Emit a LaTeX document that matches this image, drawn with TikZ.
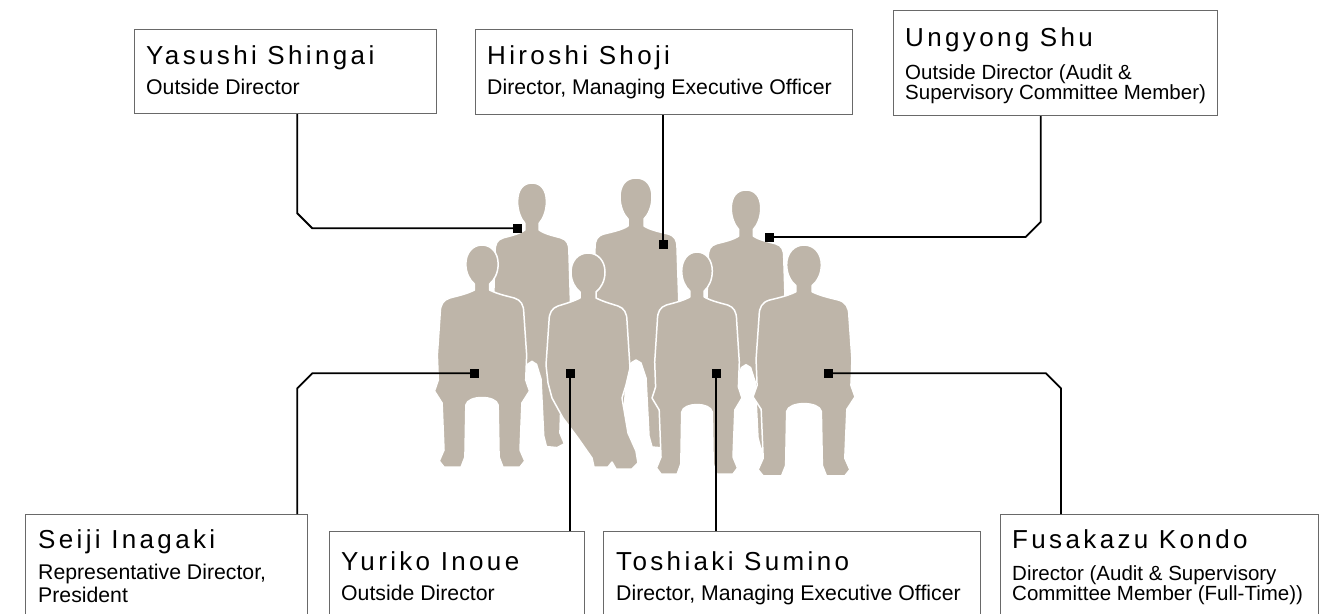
\documentclass[tikz,border=0pt]{standalone}
\usepackage{fontspec}
\setmainfont{Liberation Sans}
\newfontfamily\namefont[LetterSpace=12.9]{Liberation Sans}
\usetikzlibrary{calc}
\definecolor{silh}{RGB}{190,181,169}
\definecolor{frame}{RGB}{105,105,105}

\begin{document}
\begin{tikzpicture}[x=1pt,y=-1pt,
  namebox/.style={draw=frame,line width=1.1pt,fill=white,inner sep=0pt,anchor=north west},
  nametext/.style={anchor=base west,inner sep=0pt,font=\namefont\fontsize{26}{30}\selectfont},
  roletext/.style={anchor=base west,inner sep=0pt,font=\fontsize{21.25}{24}\selectfont},
  roletight/.style={anchor=base west,inner sep=0pt,font=\fontsize{20.5}{24}\selectfont},
  conn/.style={line width=1.8pt,black},
  marker/.style={fill=black,minimum size=9pt,inner sep=0pt},
  person/.style={fill=silh,draw=white,line width=1.5pt,line join=round},
  standing/.pic={
    \path[person] (0,0)
      .. controls (10,0) and (16,7) .. (16,19)
      .. controls (16,29) and (12,37) .. (8,41)
      -- (8,48)
      .. controls (14,52) and (24,54) .. (32,56)
      .. controls (39,58) and (41,62) .. (41,70)
      -- (43,130) -- (44,165) -- (41,178) -- (36,178)
      -- (33,200) -- (31,255)
      -- (36,266) -- (28,270) -- (16,269) -- (13,258)
      -- (10,200) -- (5,185) -- (0,182) -- (-5,185) -- (-10,200)
      -- (-13,258) -- (-16,269) -- (-28,270) -- (-36,266) -- (-31,255)
      -- (-33,200) -- (-36,178) -- (-41,178) -- (-44,165) -- (-43,130)
      -- (-41,70)
      .. controls (-41,62) and (-39,58) .. (-32,56)
      .. controls (-24,54) and (-14,52) .. (-8,48)
      -- (-8,41)
      .. controls (-12,37) and (-16,29) .. (-16,19)
      .. controls (-16,7) and (-10,0) .. (0,0) -- cycle;
  },
  seated/.pic={
    \path[person] (0,0)
      .. controls (10,0) and (17,8) .. (17,19)
      .. controls (17,28) and (13,35) .. (8,39)
      -- (8,45)
      .. controls (16,49) and (26,51) .. (34,53)
      .. controls (41,55) and (44,60) .. (44,68)
      -- (47,110) -- (46,135) -- (50,146) -- (46,152) -- (42,158)
      -- (40,205) -- (45,216) -- (40,222) -- (22,222) -- (18,212)
      -- (17,160)
      .. controls (15,150) and (-15,150) .. (-17,160)
      -- (-18,212) -- (-22,222) -- (-40,222) -- (-45,216) -- (-40,205)
      -- (-42,158) -- (-46,152) -- (-50,146) -- (-46,135) -- (-47,110)
      -- (-44,68)
      .. controls (-44,60) and (-41,55) .. (-34,53)
      .. controls (-26,51) and (-16,49) .. (-8,45)
      -- (-8,39)
      .. controls (-13,35) and (-17,28) .. (-17,19)
      .. controls (-17,8) and (-10,0) .. (0,0) -- cycle;
  },
  crossleg/.pic={
    \path[person] (0,0)
      .. controls (10,0) and (17,8) .. (17,19)
      .. controls (17,28) and (13,35) .. (8,39)
      -- (8,45)
      .. controls (16,49) and (24,51) .. (30,53)
      .. controls (36,55) and (39,60) .. (39,68)
      -- (42,115) -- (38,132) -- (34,145)
      -- (40,180) -- (48,198) -- (50,210) -- (44,216) -- (28,216)
      -- (24,209) -- (20,214) -- (6,214) -- (4,205)
      -- (-10,185) -- (-25,165) -- (-36,145) -- (-40,130) -- (-42,112)
      -- (-39,68)
      .. controls (-39,60) and (-36,55) .. (-30,53)
      .. controls (-24,51) and (-16,49) .. (-8,45)
      -- (-8,39)
      .. controls (-13,35) and (-17,28) .. (-17,19)
      .. controls (-17,8) and (-10,0) .. (0,0) -- cycle;
  }
]
\useasboundingbox (0,0) rectangle (1335,613);
\clip (0,0) rectangle (1335,613);

% back row, standing
\pic[xscale=0.9,yscale=0.98] at (532,183) {standing};
\pic at (636,178) {standing};
\pic[xscale=0.92,yscale=0.96] at (746,190) {standing};
% front row, seated
\pic[xscale=0.95] at (482,245) {seated};
\pic at (588,253) {crossleg};
\pic[xscale=0.9] at (697,252) {seated};
\pic[xscale=1.02,yscale=1.04] at (804,245) {seated};

% name boxes
\node[namebox,minimum width=302pt,minimum height=84pt]  (yas) at (134,29) {};
\node[namebox,minimum width=377pt,minimum height=85pt]  (hir) at (475,29) {};
\node[namebox,minimum width=324pt,minimum height=105pt] (ung) at (893,10) {};
\node[namebox,minimum width=282pt,minimum height=120pt] (sei) at (25,514) {};
\node[namebox,minimum width=255pt,minimum height=100pt] (yur) at (329,531) {};
\node[namebox,minimum width=377pt,minimum height=100pt] (tos) at (603,531) {};
\node[namebox,minimum width=318pt,minimum height=120pt] (fus) at (1000,514) {};

\node[nametext] (yasN) at (146,64) {Yasushi Shingai};
\node[roletext] (yasR) at (146,94) {Outside Director};
\node[nametext] (hirN) at (487,64) {Hiroshi Shoji};
\node[roletext] (hirR) at (487,94) {Director, Managing Executive Officer};
\node[nametext] (ungN) at (905,46) {Ungyong Shu};
\node[roletight] (ungR1) at (905,79) {Outside Director (Audit \&};
\node[roletight] (ungR2) at (905,99) {Supervisory Committee Member)};
\node[nametext] (seiN) at (38,548) {Seiji Inagaki};
\node[roletext] (seiR1) at (38,579) {Representative Director,};
\node[roletext] (seiR2) at (38,602) {President};
\node[nametext] (yurN) at (341,570) {Yuriko Inoue};
\node[roletext] (yurR) at (341,600) {Outside Director};
\node[nametext] (tosN) at (616,570) {Toshiaki Sumino};
\node[roletext] (tosR) at (616,600) {Director, Managing Executive Officer};
\node[nametext] (fusN) at (1012,548) {Fusakazu Kondo};
\node[roletight] (fusR1) at (1012,580) {Director (Audit \& Supervisory};
\node[roletight] (fusR2) at (1012,600) {Committee Member (Full-Time))};

% markers on the figures
\node[marker] (pA) at (517,228.3) {};
\node[marker] (pB) at (663.3,244.5) {};
\node[marker] (pC) at (769,237) {};
\node[marker] (pD) at (474,373.3) {};
\node[marker] (pE) at (570,373.3) {};
\node[marker] (pF) at (716,373.3) {};
\node[marker] (pG) at (828,373.3) {};

% leader lines with chamfered corners
\coordinate (kA) at (297.3,213.3);
\draw[conn] (pA.center) -- ($(kA)+(15,15)$) -- (kA) -- (kA |- yas.south);
\draw[conn] (pB.center) -- (pB.center |- hir.south);
\coordinate (kC) at (1040.7,222);
\draw[conn] (pC.center) -- ($(kC)+(-15,15)$) -- (kC) -- (kC |- ung.south);
\coordinate (kD) at (297.3,388.3);
\draw[conn] (pD.center) -- ($(kD)+(15,-15)$) -- (kD) -- (kD |- sei.north);
\draw[conn] (pE.center) -- (pE.center |- yur.north);
\draw[conn] (pF.center) -- (pF.center |- tos.north);
\coordinate (kG) at (1061,388.3);
\draw[conn] (pG.center) -- ($(kG)+(-15,-15)$) -- (kG) -- (kG |- fus.north);
\end{tikzpicture}
\end{document}
